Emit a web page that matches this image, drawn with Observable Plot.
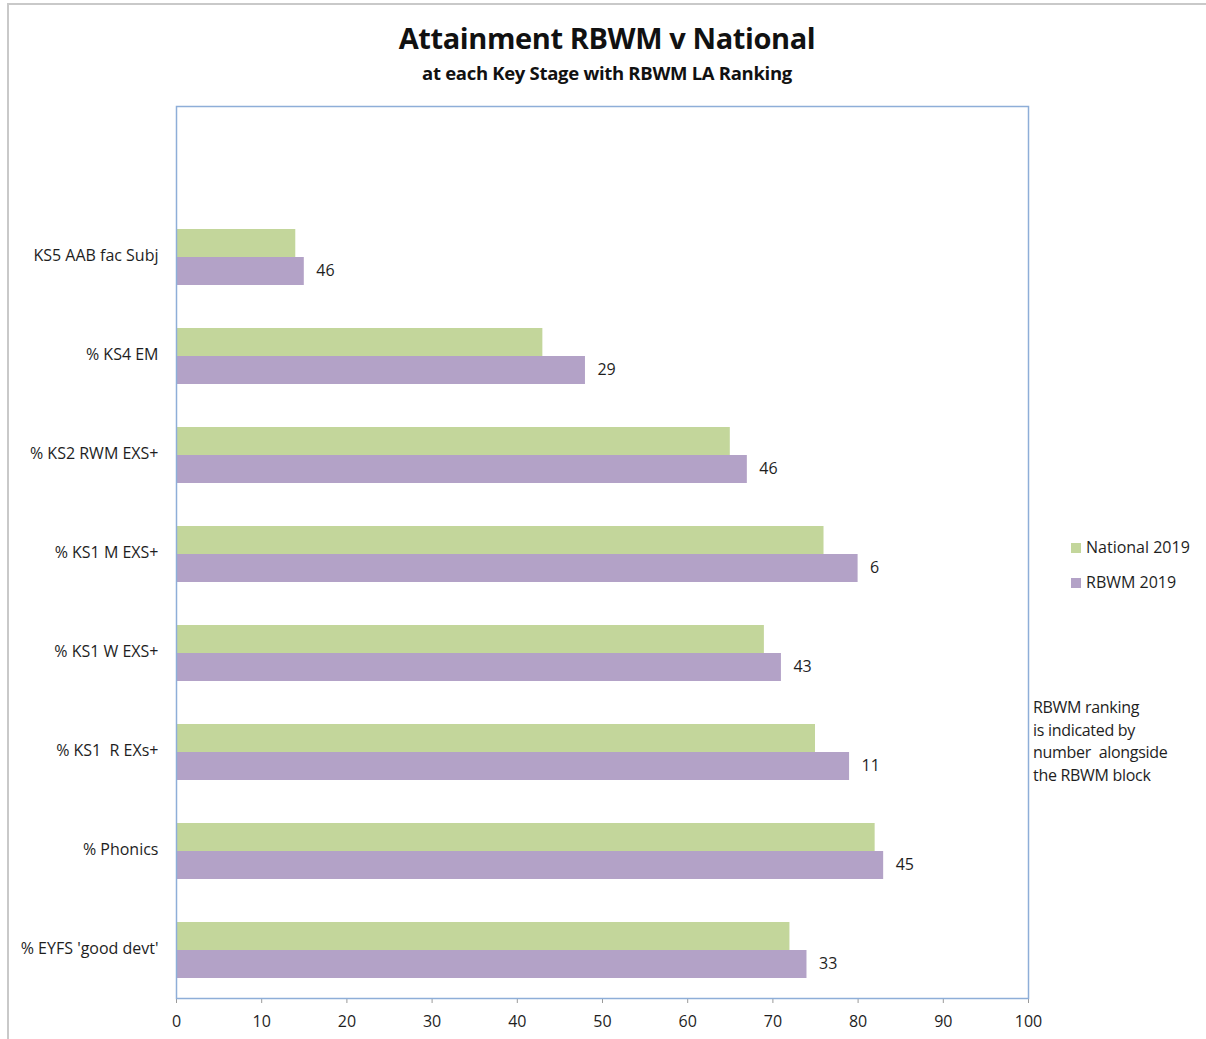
<!DOCTYPE html>
<html>
<head>
<meta charset="utf-8">
<script src="https://cdn.jsdelivr.net/npm/d3@7"></script>
<script src="https://cdn.jsdelivr.net/npm/@observablehq/plot@0.6"></script>
<style>
  html, body { margin: 0; padding: 0; background: #fff; }
  #wrap { position: relative; width: 1206px; height: 1039px; overflow: hidden; font-family: "Open Sans", sans-serif; color: #1e1e1e; }
  #border { position: absolute; left: 7px; top: 3px; width: 1210px; height: 1100px; border-left: 2px solid #c9c9c9; border-top: 2px solid #c9c9c9; }
  #title { position: absolute; left: 0; width: 1214px; top: 18px; text-align: center; font-weight: 700; font-size: 29px; color: #111; letter-spacing: -0.4px; }
  #subtitle { position: absolute; left: 0; width: 1214px; top: 60px; text-align: center; font-weight: 700; font-size: 18.5px; color: #111; letter-spacing: -0.3px; }
  #chart { position: absolute; left: 0; top: 90px; }
  #legend { position: absolute; left: 1071px; top: 536px; font-size: 16px; color: #1e1e1e; }
  #legend div { height: 35px; display: flex; align-items: flex-start; }
  #legend span.sw { display: inline-block; width: 10px; height: 10px; margin-right: 5px; margin-top: 7px; }
  #note { position: absolute; left: 1033px; top: 696px; font-size: 16px; line-height: 22.5px; color: #1e1e1e; letter-spacing: -0.3px; }
</style>
</head>
<body>
<div id="wrap">
  <div id="border"></div>
  <div id="title">Attainment RBWM v National</div>
  <div id="subtitle">at each Key Stage with RBWM LA Ranking</div>
  <div id="chart"></div>
  <div id="legend"></div>
  <div id="note">RBWM ranking<br>is indicated by<br>number&nbsp; alongside<br>the RBWM block</div>
</div>
<script>
// Data (top category is an empty slot, as in the original chart)
const categories = ["", "KS5 AAB fac Subj", "% KS4 EM", "% KS2 RWM EXS+", "% KS1 M EXS+", "% KS1 W EXS+", "% KS1  R EXs+", "% Phonics", "% EYFS 'good devt'"];
const national2019 = [null, 14, 43, 65, 76, 69, 75, 82, 72];
const rbwm2019 = [null, 15, 48, 67, 80, 71, 79, 83, 74];
const rbwmRank = [null, 46, 29, 46, 6, 43, 11, 45, 33];
const seriesNames = ["National 2019", "RBWM 2019"];
const seriesColors = ["#c3d69b", "#b3a2c7"];
const xTicks = [0, 10, 20, 30, 40, 50, 60, 70, 80, 90, 100];

const rows = categories.map((c, i) => ({cat: c, national: national2019[i], rbwm: rbwm2019[i], rank: rbwmRank[i]})).filter(d => d.national != null);

const plot = Plot.plot({
  width: 1206,
  height: 948,
  marginLeft: 176,
  marginRight: 178,
  marginTop: 16,
  marginBottom: 40,
  style: {fontFamily: "'Open Sans', sans-serif", fontSize: "16px", color: "#1e1e1e", background: "transparent"},
  x: {domain: [0, 100], ticks: xTicks, tickSize: 5, tickPadding: 12, label: null, line: true},
  y: {domain: categories, padding: 0, label: null, tickSize: 0, tickPadding: 18},
  marks: [
    Plot.barX(rows, {x: "national", y: "cat", fill: seriesColors[0], insetTop: 23, insetBottom: 48}),
    Plot.barX(rows, {x: "rbwm", y: "cat", fill: seriesColors[1], insetTop: 51, insetBottom: 20}),
    Plot.text(rows, {x: "rbwm", y: "cat", text: d => String(d.rank), dx: 12, dy: 15, textAnchor: "start", fill: "#1e1e1e", fontSize: 16}),
    Plot.frame({stroke: "#8eaed8", strokeWidth: 1.5})
  ]
});
// grey axis line & ticks colour
plot.querySelectorAll('[aria-label="x-axis tick"], [aria-label="x-axis line"]').forEach(g => g.setAttribute("stroke", "#9a9a9a"));
document.getElementById("chart").appendChild(plot);

const legend = document.getElementById("legend");
seriesNames.forEach((n, i) => {
  const row = document.createElement("div");
  row.innerHTML = `<span class="sw" style="background:${seriesColors[i]}"></span><span>${n}</span>`;
  legend.appendChild(row);
});
</script>
</body>
</html>
